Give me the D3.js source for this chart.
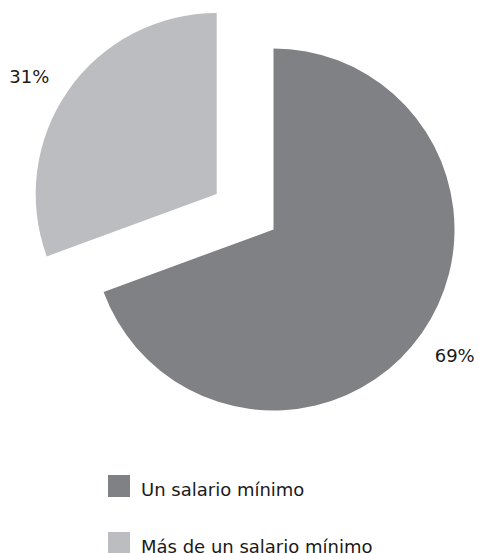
<!DOCTYPE html>
<html><head><meta charset="utf-8">
<script src="https://cdn.jsdelivr.net/npm/d3@7"></script>
<style>body{margin:0;background:#fff}svg{display:block}text{font-family:"DejaVu Sans",sans-serif;fill:#1a1a1a}</style>
</head><body>
<script>
const categories = ["Un salario mínimo", "Más de un salario mínimo"];
const values = [69.4, 30.6];
const labels = ["69%", "31%"];
const colors = ["#808184", "#bcbdc0"];

const W = 479, H = 553;
const cx = 273.5, cy = 229.5, R = 181;
const explode = [0, 67];           // explode distance per slice
const explodeAngle = [null, 302 * Math.PI / 180]; // direction of explosion
const labelR = 221;

const svg = d3.select("body").append("svg").attr("width", W).attr("height", H);
const pie = d3.pie().sort(null).value(d => d)(values);
const arc = d3.arc().innerRadius(0).outerRadius(R);

const g = svg.append("g").attr("transform", `translate(${cx},${cy})`);
pie.forEach((p, i) => {
  const a = explodeAngle[i] !== null ? explodeAngle[i] : (p.startAngle + p.endAngle) / 2;
  const ox = Math.sin(a) * explode[i], oy = -Math.cos(a) * explode[i];
  const sg = g.append("g").attr("transform", `translate(${ox},${oy})`);
  sg.append("path").attr("d", arc(p)).attr("fill", colors[i]);
  const la = explodeAngle[i] !== null ? explodeAngle[i] : (p.startAngle + p.endAngle) / 2;
  sg.append("text")
    .attr("x", Math.sin(la) * labelR).attr("y", -Math.cos(la) * labelR)
    .attr("text-anchor", "middle").attr("dy", "0.36em")
    .attr("font-size", 18).text(labels[i]);
});

const legend = svg.append("g").attr("transform", "translate(108,475)");
categories.forEach((c, i) => {
  const row = legend.append("g").attr("transform", `translate(0,${i * 57})`);
  row.append("rect").attr("width", 22).attr("height", 22).attr("fill", colors[i]);
  row.append("text").attr("x", 33).attr("y", 21).attr("font-size", 18).text(c);
});
</script>
</body></html>
